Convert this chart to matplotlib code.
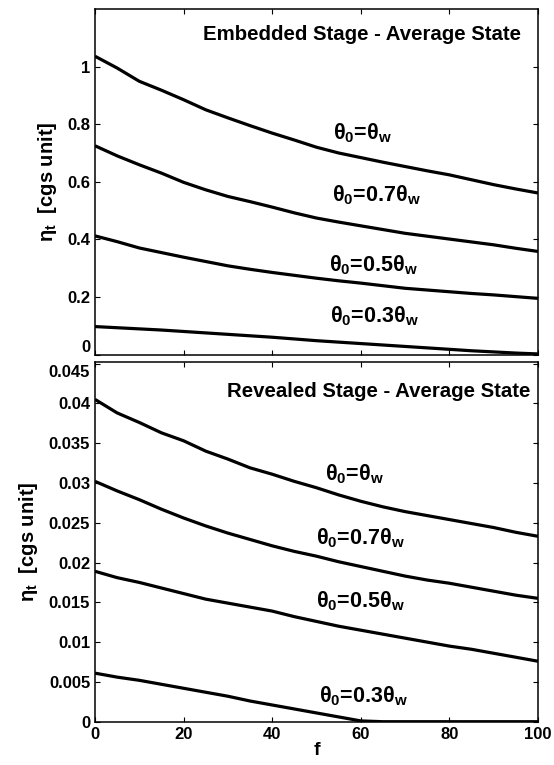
import matplotlib
matplotlib.use('Agg')
import matplotlib.pyplot as plt
import matplotlib.transforms as mtransforms

# --- data ---
f = [0, 5, 10, 15, 20, 25, 30, 35, 40, 45, 50,
     55, 60, 65, 70, 75, 80, 85, 90, 95, 100]

# embedded stage
emb_100 = [1.036, 0.995, 0.949, 0.918, 0.885, 0.850, 0.822, 0.795, 0.769, 0.745, 0.720,
           0.700, 0.684, 0.668, 0.653, 0.638, 0.624, 0.607, 0.590, 0.575, 0.561]
emb_070 = [0.725, 0.690, 0.659, 0.630, 0.598, 0.572, 0.549, 0.531, 0.512, 0.492, 0.474,
           0.460, 0.447, 0.434, 0.421, 0.411, 0.401, 0.391, 0.381, 0.369, 0.358]
emb_050 = [0.412, 0.392, 0.370, 0.354, 0.338, 0.323, 0.308, 0.296, 0.285, 0.275, 0.265,
           0.256, 0.248, 0.239, 0.230, 0.224, 0.218, 0.212, 0.207, 0.201, 0.195]
emb_030 = [0.097, 0.093, 0.089, 0.085, 0.080, 0.075, 0.070, 0.065, 0.060, 0.054, 0.048,
           0.043, 0.038, 0.033, 0.028, 0.023, 0.018, 0.013, 0.009, 0.005, 0.002]

# revealed stage
rev_100 = [0.0405, 0.0388, 0.0376, 0.0363, 0.0353, 0.0340, 0.0330, 0.0319, 0.0311, 0.0302, 0.0294,
           0.0285, 0.0277, 0.0270, 0.0264, 0.0259, 0.0254, 0.0249, 0.0244, 0.0238, 0.0233]
rev_070 = [0.0302, 0.0290, 0.0279, 0.0267, 0.0256, 0.0246, 0.0237, 0.0229, 0.0221, 0.0214, 0.0208,
           0.0201, 0.0195, 0.0189, 0.0183, 0.0178, 0.0174, 0.0169, 0.0164, 0.0159, 0.0155]
rev_050 = [0.0189, 0.0181, 0.0175, 0.0168, 0.0161, 0.0154, 0.0149, 0.0144, 0.0139, 0.0132, 0.0126,
           0.0120, 0.0115, 0.0110, 0.0105, 0.0100, 0.0095, 0.0091, 0.0086, 0.0081, 0.0076]
rev_030 = [0.0061, 0.0056, 0.0052, 0.0047, 0.0042, 0.0037, 0.0032, 0.0026, 0.0021, 0.0016, 0.0011,
           0.0006, 0.0001, 0.0, 0.0, 0.0, 0.0, 0.0, 0.0, 0.0, 0.0]

curve_labels = [r'$\theta_0$=$\theta_w$', r'$\theta_0$=0.7$\theta_w$',
                r'$\theta_0$=0.5$\theta_w$', r'$\theta_0$=0.3$\theta_w$']

top_yticks = [0, 0.2, 0.4, 0.6, 0.8, 1]
top_yticklabels = ['0', '0.2', '0.4', '0.6', '0.8', '1']
bot_yticks = [0, 0.005, 0.01, 0.015, 0.02, 0.025, 0.03, 0.035, 0.04, 0.045]
bot_yticklabels = ['0', '0.005', '0.01', '0.015', '0.02', '0.025', '0.03', '0.035', '0.04', '0.045']
xticks = [0, 20, 40, 60, 80, 100]

# --- style (MATLAB look) ---
plt.rcParams['font.family'] = 'Liberation Sans'
plt.rcParams['font.weight'] = 'bold'
plt.rcParams['axes.labelweight'] = 'bold'
plt.rcParams['mathtext.fontset'] = 'custom'
plt.rcParams['mathtext.rm'] = 'Liberation Sans:bold'
plt.rcParams['mathtext.it'] = 'Liberation Sans:bold'
plt.rcParams['mathtext.bf'] = 'Liberation Sans:bold'
plt.rcParams['mathtext.default'] = 'rm'
plt.rcParams['axes.linewidth'] = 1.1
for ax_ in ['xtick', 'ytick']:
    plt.rcParams[ax_ + '.direction'] = 'in'
    plt.rcParams[ax_ + '.major.size'] = 3.5
    plt.rcParams[ax_ + '.major.width'] = 0.8
    plt.rcParams[ax_ + '.labelsize'] = 12
plt.rcParams['xtick.top'] = True
plt.rcParams['ytick.right'] = True

fig = plt.figure(figsize=(5.54, 7.65), dpi=100)
ax1 = fig.add_axes([0.1715, 0.5366, 0.7995, 0.4516])
ax2 = fig.add_axes([0.1715, 0.0566, 0.7995, 0.4702])

LW = 2.3

# top panel
for ys in [emb_100, emb_070, emb_050, emb_030]:
    ax1.plot(f, ys, color='black', lw=LW, solid_capstyle='butt')
ax1.set_xlim(0, 100)
ax1.set_ylim(0, 1.2)
ax1.set_xticks(xticks)
ax1.set_xticklabels([])
ax1.set_yticks(top_yticks)
ax1.set_yticklabels(top_yticklabels)
ax1.set_ylabel(r'$\eta_t$  [cgs unit]', fontsize=14.5, labelpad=6)
ax1.text(0.962, 0.925, 'Embedded Stage - Average State', transform=ax1.transAxes,
         ha='right', va='center', fontsize=14.7)
top_pos = [(53.7, 0.77), (53.4, 0.553), (52.9, 0.309), (53.0, 0.132)]
for lab, (x, y) in zip(curve_labels, top_pos):
    ax1.text(x, y, lab, ha='left', va='center', fontsize=15.5)

# bottom panel
for ys in [rev_100, rev_070, rev_050, rev_030]:
    ax2.plot(f, ys, color='black', lw=LW, solid_capstyle='butt')
ax2.set_xlim(0, 100)
ax2.set_ylim(0, 0.0452)
ax2.set_xticks(xticks)
ax2.set_yticks(bot_yticks)
ax2.set_yticklabels(bot_yticklabels)
ax2.set_xlabel('f', fontsize=14, labelpad=0)
ax2.set_ylabel(r'$\eta_t$  [cgs unit]', fontsize=14.5, labelpad=6)
ax2.text(0.982, 0.917, 'Revealed Stage - Average State', transform=ax2.transAxes,
         ha='right', va='center', fontsize=14.7)
bot_pos = [(51.9, 0.0311), (49.9, 0.0231), (49.8, 0.0151), (50.6, 0.0032)]
for lab, (x, y) in zip(curve_labels, bot_pos):
    ax2.text(x, y, lab, ha='left', va='center', fontsize=15.5)

# nudge edge tick labels like the original
fig.canvas.draw()
lbl = ax1.get_yticklabels()[0]
lbl.set_transform(lbl.get_transform() + mtransforms.ScaledTranslation(0, 6 / 72, fig.dpi_scale_trans))
lbl = ax2.get_yticklabels()[-1]
lbl.set_transform(lbl.get_transform() + mtransforms.ScaledTranslation(0, -5 / 72, fig.dpi_scale_trans))

fig.savefig('out.png', dpi=100)
